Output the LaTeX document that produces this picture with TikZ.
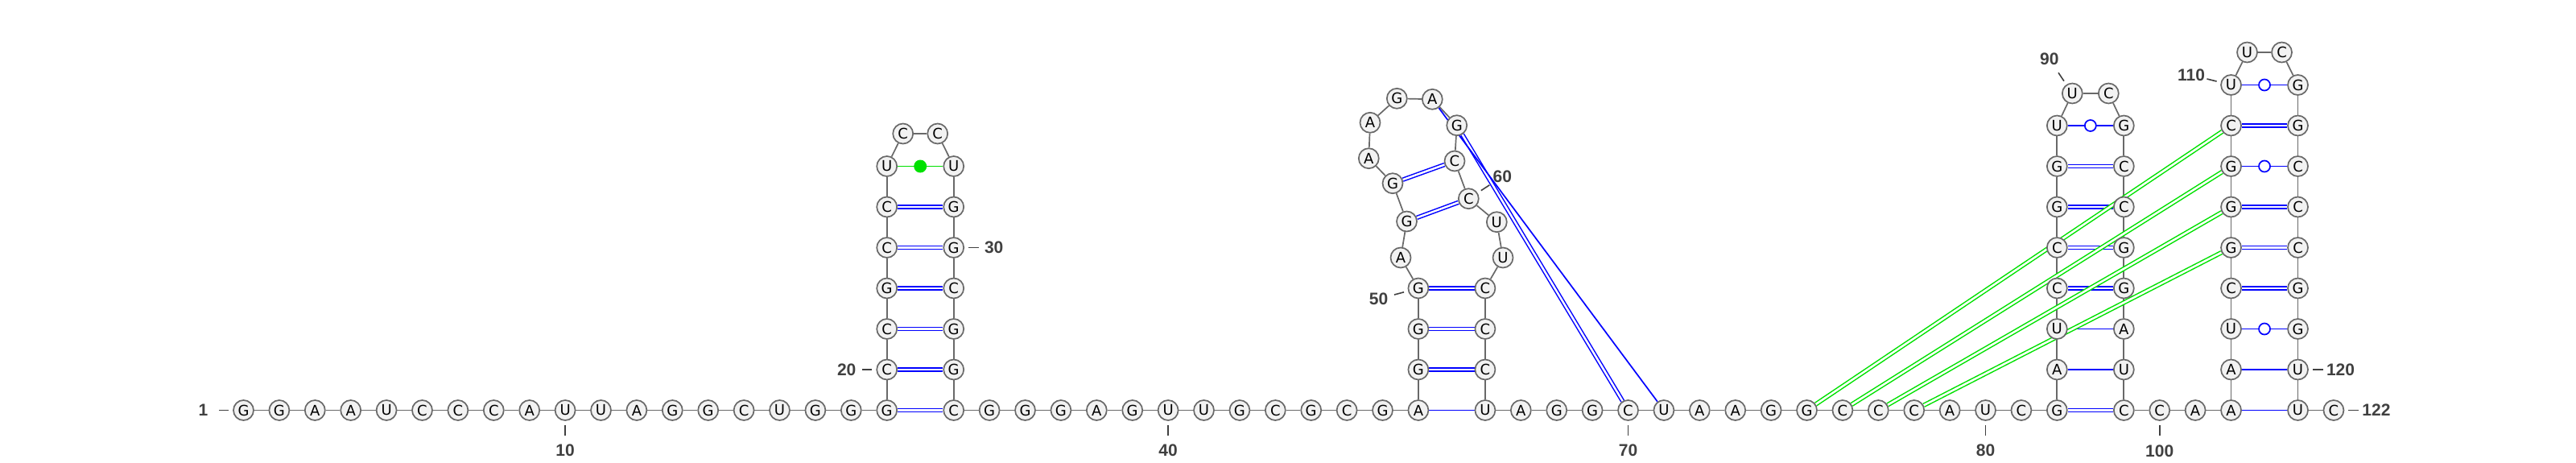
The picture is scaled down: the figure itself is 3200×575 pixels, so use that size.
\documentclass[tikz,border=0pt]{standalone}
\usepackage{fontspec}
\setmainfont{DejaVu Sans}
\newfontfamily\numfont{Liberation Sans}
\usepackage{tikz}
\usetikzlibrary{positioning}
\usepackage{xcolor}
\definecolor{bbgray}{RGB}{105,105,105}
\definecolor{ntfill}{RGB}{242,242,242}
\definecolor{numgray}{RGB}{64,64,64}
\definecolor{pkgreen}{RGB}{0,225,0}
\pgfdeclarelayer{background}
\pgfsetlayers{background,main}

\begin{document}
\begin{tikzpicture}[%
    x=1pt,y=-1pt,
    nt/.style={%
      circle,draw=bbgray,fill=ntfill,line width=1.7pt,minimum size=25pt,inner sep=0pt,
      font=\fontsize{18}{18}\selectfont},
    bb/.style={draw=bbgray,line width=1.7pt},
    gc/.style={draw=blue,double=white,line width=1.5pt,double distance=2.5pt},
    au/.style={draw=blue,line width=1.7pt},
    pk/.style={draw=pkgreen,double=white,line width=1.5pt,double distance=2.6pt},
    wobble/.style={circle,draw=blue,fill=white,line width=1.7pt,minimum size=14pt,inner sep=0pt},
    noncan/.style={circle,fill=pkgreen,minimum size=16pt,inner sep=0pt},
    num/.style={text=numgray,font=\numfont\bfseries\fontsize{21}{21}\selectfont,inner sep=0pt},
    tick/.style={draw=numgray,line width=1.6pt}
  ]
  \useasboundingbox (0,0) rectangle (3200,575);
  % unpaired bases on the base line
  \foreach \b [count=\i from 1] in {G,G,A,A,U,C,C,C,A,U,U,A,G,G,C,U,G,G}
    \node[nt] (n\i) at ({302.5+44.4*(\i-1)},509.5) {\b};
  \foreach \b [count=\i from 35] in {G,G,G,A,G,U,U,G,C,G,C,G}
    \node[nt] (n\i) at ({1184.7+44.4*(\i-34)},509.5) {\b};
  \foreach \b [count=\i from 67] in {A,G,G,C,U,A,A,G,G,C,C,C,A,U,C}
    \node[nt] (n\i) at ({1844.9+44.4*(\i-66)},509.5) {\b};
  \foreach \b [count=\i from 100] in {C,A}
    \node[nt] (n\i) at ({2638.3+44.4*(\i-99)},509.5) {\b};
  \node[nt] (n122) at (2898.9,509.5) {C};
  % helices, 5' side / 3' side, from the base line up
  \foreach \l/\r [count=\k from 0] in {G/C,C/G,C/G,G/C,C/G,C/G,U/U}{
    \pgfmathtruncatemacro\ia{19+\k}\pgfmathtruncatemacro\ib{34-\k}
    \node[nt] (n\ia) at (1101.7,{509.5-50.5*\k}) {\l};
    \node[nt] (n\ib) at (1184.7,{509.5-50.5*\k}) {\r};
  }
  \foreach \l/\r [count=\k from 0] in {A/U,G/C,G/C,G/C}{
    \pgfmathtruncatemacro\ia{47+\k}\pgfmathtruncatemacro\ib{66-\k}
    \node[nt] (n\ia) at (1761.9,{509.5-50.5*\k}) {\l};
    \node[nt] (n\ib) at (1844.9,{509.5-50.5*\k}) {\r};
  }
  \foreach \l/\r [count=\k from 0] in {G/C,A/U,U/A,C/G,C/G,G/C,G/C,U/G}{
    \pgfmathtruncatemacro\ia{82+\k}\pgfmathtruncatemacro\ib{99-\k}
    \node[nt] (n\ia) at (2555.3,{509.5-50.5*\k}) {\l};
    \node[nt] (n\ib) at (2638.3,{509.5-50.5*\k}) {\r};
  }
  \foreach \l/\r [count=\k from 0] in {A/U,A/U,U/G,C/G,G/C,G/C,G/C,C/G,U/G}{
    \pgfmathtruncatemacro\ia{102+\k}\pgfmathtruncatemacro\ib{121-\k}
    \node[nt] (n\ia) at (2771.5,{509.5-50.5*\k}) {\l};
    \node[nt] (n\ib) at (2854.5,{509.5-50.5*\k}) {\r};
  }
  % loops
  \node[nt] (n26) at (1121.7,166) {C};
  \node[nt] (n27) at (1164.7,166) {C};
  \foreach \i/\x/\y/\b in {51/1740/320/A,52/1747.5/275/G,53/1730/227.7/G,
      54/1700.3/196.7/A,55/1702/152.3/A,56/1735.3/122.3/G,57/1779.3/123.3/A,
      58/1809.7/155.7/G,59/1807/200/C,60/1824.3/246.7/C,61/1859.3/275.7/U,62/1867/320/U}
    \node[nt] (n\i) at (\x,\y) {\b};
  \node[nt] (n90) at (2574.3,116) {U};
  \node[nt] (n91) at (2619.3,116) {C};
  \node[nt] (n111) at (2791.5,65) {U};
  \node[nt] (n112) at (2834.5,65) {C};

  \begin{pgfonlayer}{background}
    % backbone
    \foreach \i [evaluate=\i as \j using int(\i+1)] in {1,...,121}
      \draw[bb] (n\i) -- (n\j);
    % base pairs
    \foreach \a/\b in {19/34,20/33,21/32,22/31,23/30,24/29,48/65,49/64,50/63,52/60,53/59,58/70,
        82/99,85/96,86/95,87/94,88/93,105/118,106/117,107/116,109/114}
      \draw[gc] (n\a) -- (n\b);
    \foreach \a/\b in {47/66,57/71,83/98,84/97,102/121,103/120}
      \draw[au] (n\a) -- (n\b);
    \foreach \a/\b in {89/92,104/119,108/115,110/113}
      \draw[au] (n\a) -- (n\b) node[wobble,midway] {};
    \draw[au,draw=pkgreen] (n25) -- (n28) node[noncan,midway] {};
    % pseudoknot
    \foreach \a/\b in {75/109,76/108,77/107,78/106}
      \draw[pk] (n\a) -- (n\b);
  \end{pgfonlayer}

  % numbering
  \foreach \i/\a/\d in {1/180/50,10/90/50,20/180/50,30/0/50,40/90/50,50/165/51,60/-33/50,
      70/90/50,80/90/50,90/-124/51,100/90/51,110/-166/51,120/0/53,122/0/53}{
    \draw[tick] (n\i.center) ++(\a:18.5) -- ++(\a:12.5);
    \path (n\i.center) ++(\a:\d) node[num] {\i};
  }
\end{tikzpicture}
\end{document}
